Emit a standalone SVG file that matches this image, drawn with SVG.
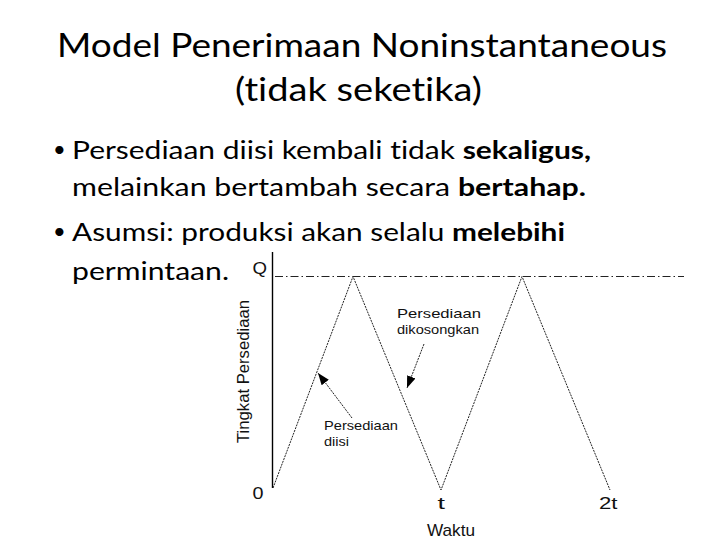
<svg xmlns="http://www.w3.org/2000/svg" width="720" height="540" viewBox="0 0 720 540">
  <defs>
    <style>
      .title { font-family: Lato, "Open Sans", sans-serif; font-size: 33px; fill: #000; font-variant-ligatures: none; }
      .bullet { font-family: Lato, "Open Sans", sans-serif; font-size: 25.5px; fill: #000; font-variant-ligatures: none; }
      .dot { font-family: Lato, "Open Sans", sans-serif; font-size: 22px; fill: #000; }
      .b { font-weight: bold; }
      .chart { font-family: "Liberation Sans", Arial, sans-serif; fill: #111; }
      .lbl { font-size: 13px; }
      .tick { font-size: 17px; }
      .axis { stroke: #000; stroke-width: 1.4; fill: none; }
      .zig { stroke: #222; stroke-width: 1; stroke-dasharray: 2 1; fill: none; }
      .qline { stroke: #222; stroke-width: 1; stroke-dasharray: 8 3 1.5 3; fill: none; }
      .arrow { stroke: #222; stroke-width: 1; stroke-dasharray: 2 1; fill: none; marker-end: url(#head); }
    </style>
    <marker id="head" markerUnits="userSpaceOnUse" markerWidth="13" markerHeight="10" refX="12" refY="4.5" orient="auto">
      <path d="M0,0 L12,4.5 L0,9 Z" fill="#000"/>
    </marker>
  </defs>

  <g id="title">
    <text class="title" x="57" y="57" textLength="610" lengthAdjust="spacingAndGlyphs">Model Penerimaan Noninstantaneous</text>
    <text class="title" x="235" y="101" textLength="247" lengthAdjust="spacingAndGlyphs">(tidak seketika)</text>
  </g>

  <g id="bullets">
    <text class="dot" x="53" y="157">•</text>
    <text class="bullet" x="72" y="159" textLength="519" lengthAdjust="spacingAndGlyphs">Persediaan diisi kembali tidak <tspan class="b">sekaligus,</tspan></text>
    <text class="bullet" x="72" y="196" textLength="514" lengthAdjust="spacingAndGlyphs">melainkan bertambah secara <tspan class="b">bertahap.</tspan></text>
    <text class="dot" x="53" y="239">•</text>
    <text class="bullet" x="72" y="241" textLength="493" lengthAdjust="spacingAndGlyphs">Asumsi: produksi akan selalu <tspan class="b">melebihi</tspan></text>
    <text class="bullet" x="72" y="280" textLength="157" lengthAdjust="spacingAndGlyphs">permintaan.</text>
  </g>

  <g id="axes">
    <line class="axis" x1="272.5" y1="252" x2="272.5" y2="488"/>
    <line class="qline" x1="275" y1="276.5" x2="684" y2="276.5"/>
  </g>

  <g id="inventory-line">
    <polyline class="zig" points="273,488 353,276.5 441,490 522,276.5 610,490"/>
  </g>

  <g id="axis-labels" class="chart">
    <text class="tick" x="252.5" y="273.5" textLength="14.5" lengthAdjust="spacingAndGlyphs">Q</text>
    <text class="tick" x="252.5" y="498.5" textLength="11" lengthAdjust="spacingAndGlyphs">0</text>
    <text class="tick" x="437.5" y="508.5" textLength="7.5" lengthAdjust="spacingAndGlyphs">t</text>
    <text class="tick" x="599" y="508.5" textLength="18.5" lengthAdjust="spacingAndGlyphs">2t</text>
    <text class="tick" x="427" y="535.5" textLength="48" lengthAdjust="spacingAndGlyphs">Waktu</text>
    <text class="tick" transform="translate(248.5,443) rotate(-90)" x="0" y="0" textLength="143" lengthAdjust="spacingAndGlyphs">Tingkat Persediaan</text>
  </g>

  <g id="label-dikosongkan" class="chart">
    <text class="lbl" x="397" y="318" textLength="84" lengthAdjust="spacingAndGlyphs">Persediaan</text>
    <text class="lbl" x="397" y="334" textLength="82" lengthAdjust="spacingAndGlyphs">dikosongkan</text>
  </g>

  <g id="label-diisi" class="chart">
    <text class="lbl" x="324" y="430" textLength="74" lengthAdjust="spacingAndGlyphs">Persediaan</text>
    <text class="lbl" x="324" y="446" textLength="25" lengthAdjust="spacingAndGlyphs">diisi</text>
  </g>

  <g id="connectors">
    <line class="arrow" x1="424" y1="344" x2="407" y2="388"/>
    <line class="arrow" x1="352" y1="418" x2="318" y2="373"/>
  </g>
</svg>
